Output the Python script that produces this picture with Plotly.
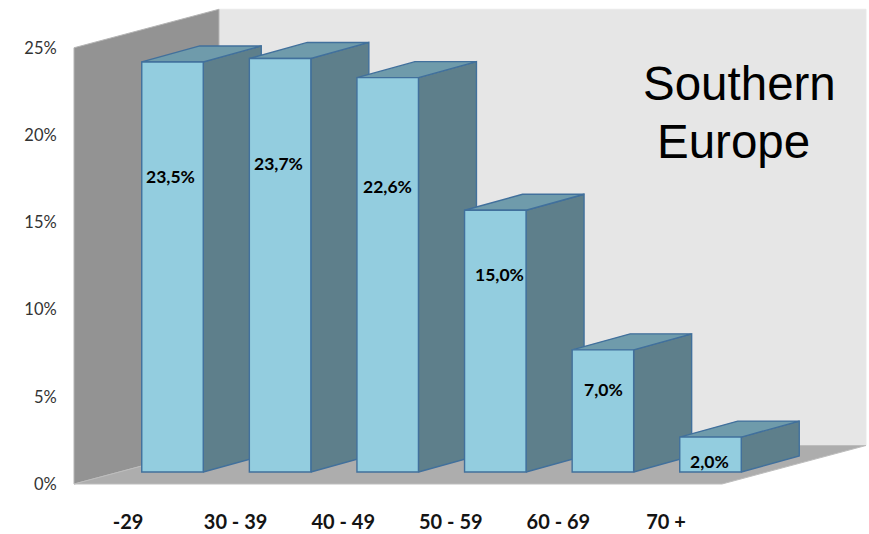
import plotly.graph_objects as go

categories = ["-29", "30 - 39", "40 - 49", "50 - 59", "60 - 69", "70 +"]
shares = [23.5, 23.7, 22.6, 15.0, 7.0, 2.0]
value_labels = ["23,5%", "23,7%", "22,6%", "15,0%", "7,0%", "2,0%"]
y_ticks = [0, 5, 10, 15, 20, 25]
y_tick_labels = ["0%", "5%", "10%", "15%", "20%", "25%"]

# layout geometry (pixels of the 869x534 page)
W, H, BOTTOM = 869, 534, 34
PLOT_H = H - BOTTOM
PX_X = 107.6          # px per category
PX_Y = 17.45          # px per percent
FIRST_X = 172.5       # px centre of first bar
WALL_ZERO = 484       # px of 0% on the wall axis
BAR_ZERO = 472        # px of 0% on the bar axis
BAR_W = 61.5 / PX_X
DEPTH_X = 58 / PX_X
DEPTH_Y = 16 / PX_Y
label_drop_px = [115, 105, 109, 64, 40, 24]
label_shift_px = [-2, -2, 0, 4, 1, -1]

def xu(px):
    return (px - FIRST_X) / PX_X

def y_range(zero_px):
    return [-(PLOT_H - zero_px) / PX_Y, zero_px / PX_Y]

WALL_BACK = 38.5 / PX_Y
WALL_TOP = 25
left_x, back_x, floor_right, back_right = xu(74), xu(219), xu(722), xu(866)

fig = go.Figure()

def poly(xs, ys, fill, line, yaxis, width=1.0):
    fig.add_trace(go.Scatter(
        x=xs + xs[:1], y=ys + ys[:1], mode="lines", fill="toself", fillcolor=fill,
        line=dict(color=line, width=width), yaxis=yaxis, xaxis="x",
        hoverinfo="skip", showlegend=False))

# walls and floor
poly([back_x, back_right, back_right, back_x],
     [WALL_BACK, WALL_BACK, WALL_TOP + WALL_BACK, WALL_TOP + WALL_BACK], "#e6e6e6", "#e9e9e9", "y")
poly([left_x, back_x, back_x, left_x],
     [0, WALL_BACK, WALL_TOP + WALL_BACK, WALL_TOP], "#939393", "#b5b5b5", "y")
poly([left_x, back_x, back_right, floor_right],
     [0, WALL_BACK, WALL_BACK, 0], "#adadad", "#bdbdbd", "y")

# side and top faces of the bars
EDGE = "#41709c"
for i, v in enumerate(shares):
    r = i + BAR_W / 2
    l = i - BAR_W / 2
    poly([r, r + DEPTH_X, r + DEPTH_X, r], [0, DEPTH_Y, v + DEPTH_Y, v], "#5e7f8b", EDGE, "y2", 1.4)
    poly([l, r, r + DEPTH_X, l + DEPTH_X], [v, v, v + DEPTH_Y, v + DEPTH_Y], "#6f9bab", EDGE, "y2", 1.4)

# front faces
fig.add_trace(go.Bar(
    x=list(range(len(categories))), y=shares, width=BAR_W, xaxis="x", yaxis="y3",
    marker=dict(color="#93cddf", line=dict(color=EDGE, width=1.4)),
    hovertext=categories, showlegend=False))

annotations = []
for i, (v, t) in enumerate(zip(shares, value_labels)):
    annotations.append(dict(
        x=i, y=v, xref="x", yref="y3", text=f"<b>{t}</b>", showarrow=False,
        yshift=-label_drop_px[i], xshift=label_shift_px[i],
        font=dict(family="Lato", size=17.5, color="#000000")))
for text, px_x, px_y in (("Southern", 739, 83), ("Europe", 733, 141)):
    annotations.append(dict(
        x=px_x / W, y=1 - px_y / PLOT_H, xref="paper", yref="paper", text=text,
        xanchor="center", yanchor="middle",
        showarrow=False, font=dict(family="Liberation Sans", size=47.5, color="#000000")))

fig.update_layout(
    width=W, height=H, margin=dict(l=0, r=0, t=0, b=BOTTOM, autoexpand=False),
    paper_bgcolor="white", plot_bgcolor="white", showlegend=False, barmode="overlay",
    annotations=annotations,
    xaxis=dict(
        range=[xu(0), xu(W)], showgrid=False, zeroline=False, showline=False, automargin=False,
        tickmode="array", tickvals=[i - 44.5 / PX_X for i in range(len(categories))],
        ticktext=[f"<b>{c}</b>" for c in categories],
        ticks="outside", ticklen=4, tickcolor="rgba(0,0,0,0)",
        tickfont=dict(family="Lato", size=20, color="#141414")),
    yaxis=dict(
        range=y_range(WALL_ZERO), showgrid=False, zeroline=False, showline=False, automargin=False,
        anchor="free", position=74 / W, side="left",
        tickmode="array", tickvals=y_ticks, ticktext=y_tick_labels,
        ticks="outside", ticklen=14, tickcolor="rgba(0,0,0,0)",
        tickfont=dict(family="Lato", size=16.5, color="#333333")),
    yaxis2=dict(range=y_range(BAR_ZERO), overlaying="y", visible=False),
    yaxis3=dict(range=y_range(BAR_ZERO), overlaying="y", visible=False),
)

fig.write_html("out.html", post_script="document.body.style.margin='0';",
               config={"displayModeBar": False})
